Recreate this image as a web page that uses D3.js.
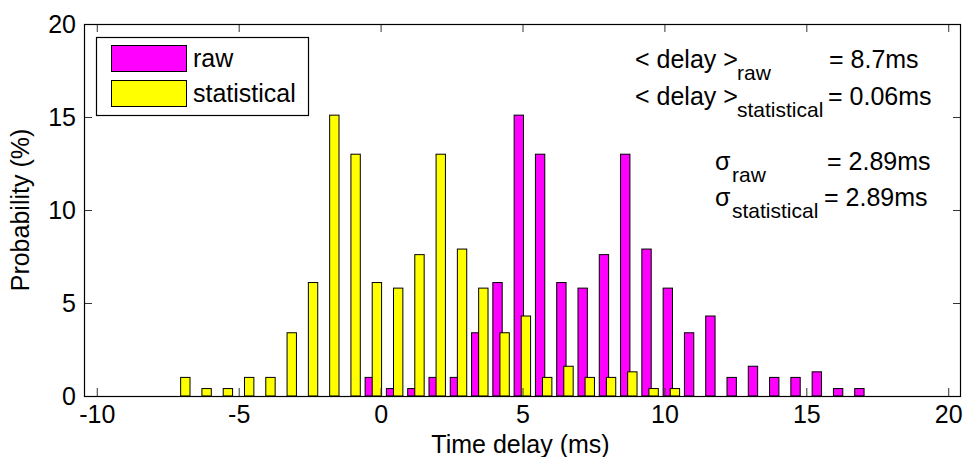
<!DOCTYPE html>
<html>
<head>
<meta charset="utf-8">
<script src="https://cdn.jsdelivr.net/npm/d3@7"></script>
<style>
  body { margin: 0; background: #fff; }
  svg { display: block; font-family: "Liberation Sans", Arial, sans-serif; }
</style>
</head>
<body>
<svg width="963" height="457"></svg>
<script>
// bin centres (ms)
var statCenters = [-6.88, -6.13, -5.38, -4.63, -3.88, -3.13, -2.38, -1.63, -0.88, -0.13, 0.62, 1.37,
                   2.12, 2.87, 3.62, 4.37, 5.12, 5.87, 6.62, 7.37, 8.12, 8.87, 9.62, 10.37];
var rawCenters = [-0.38, 0.37, 1.12, 1.87, 2.62, 3.37, 4.12, 4.87, 5.62, 6.37, 7.12, 7.87,
                  8.62, 9.37, 10.12, 10.87, 11.62, 12.37, 13.12, 13.87, 14.62, 15.37, 16.12, 16.87];

// probabilities (%)
var rawValues = [1.0, 0.4, 0.4, 1.0, 1.0, 3.4, 6.1, 15.1, 13.0, 6.1, 5.8, 7.6,
                 13.0, 7.9, 5.8, 3.4, 4.3, 1.0, 1.6, 1.0, 1.0, 1.3, 0.4, 0.4];
var statValues = [1.0, 0.4, 0.4, 1.0, 1.0, 3.4, 6.1, 15.1, 13.0, 6.1, 5.8, 7.6,
                  13.0, 7.9, 5.8, 3.4, 4.3, 1.0, 1.6, 1.0, 1.0, 1.3, 0.4, 0.4];

var xTicks = [-10, -5, 0, 5, 10, 15, 20];
var yTicks = [0, 5, 10, 15, 20];

var seriesNames = ["raw", "statistical"];
var colors = { "raw": "#ff00ff", "statistical": "#ffff00" };

// plot box (px) -- note: "top" is reserved on window, so use p*
var pLeft = 84, pRight = 961, pTop = 24, pBottom = 396;
var barW = 0.33; // ms
var fs = 25;

var svg = d3.select("svg");

var x = d3.scaleLinear().domain([-10.45, 20.45]).range([pLeft, pRight]);
var y = d3.scaleLinear().domain([0, 20]).range([pBottom, pTop]);

// bars: raw first, statistical drawn on top
function drawBars(centers, values, name) {
    svg.append("g").selectAll("rect")
        .data(centers.map(function(c, i) { return { x: c, v: values[i] }; }))
        .enter()
        .append("rect")
          .attr("x", d => x(d.x - barW / 2))
          .attr("y", d => y(d.v))
          .attr("width", d => x(d.x + barW / 2) - x(d.x - barW / 2))
          .attr("height", d => y(0) - y(d.v))
          .attr("fill", colors[name])
          .attr("stroke", "#000")
          .attr("stroke-width", 1);
}
drawBars(rawCenters, rawValues, "raw");
drawBars(statCenters, statValues, "statistical");

// axes, ticks pointing inward like matlab
function styleAxis(g) {
    g.select(".domain").remove();
    g.selectAll(".tick line").attr("stroke", "#333");
    g.selectAll("text").attr("font-size", fs).attr("fill", "#000")
      .attr("font-family", "'Liberation Sans', Arial, sans-serif");
}
var plainFmt = d => String(d); // hyphen minus, not the unicode one

svg.append("g")
    .attr("transform", `translate(0,${pBottom})`)
    .call(d3.axisBottom(x).tickValues(xTicks).tickFormat(plainFmt)
            .tickSizeInner(-8).tickSizeOuter(0).tickPadding(9))
    .call(styleAxis);
svg.append("g")
    .attr("transform", `translate(0,${pTop})`)
    .call(d3.axisTop(x).tickValues(xTicks).tickSizeInner(-8).tickSizeOuter(0).tickFormat(""))
    .call(styleAxis);
svg.append("g")
    .attr("transform", `translate(${pLeft},0)`)
    .call(d3.axisLeft(y).tickValues(yTicks).tickFormat(plainFmt)
            .tickSizeInner(-8).tickSizeOuter(0).tickPadding(8))
    .call(styleAxis);
svg.append("g")
    .attr("transform", `translate(${pRight},0)`)
    .call(d3.axisRight(y).tickValues(yTicks).tickSizeInner(-8).tickSizeOuter(0).tickFormat(""))
    .call(styleAxis);

// box
svg.append("rect")
    .attr("x", pLeft + 0.5).attr("y", pTop + 0.5)
    .attr("width", pRight - pLeft - 1).attr("height", pBottom - pTop)
    .attr("fill", "none").attr("stroke", "#000").attr("stroke-width", 1.2);

// axis titles
svg.append("text")
    .attr("x", (pLeft + pRight) / 2 - 2).attr("y", 453)
    .attr("text-anchor", "middle").attr("font-size", fs)
    .text("Time delay (ms)");
svg.append("text")
    .attr("transform", `translate(29,${(pTop + pBottom) / 2}) rotate(-90)`)
    .attr("text-anchor", "middle").attr("font-size", fs)
    .text("Probability (%)");

// legend
var legend = svg.append("g");
legend.append("rect")
    .attr("x", 96.5).attr("y", 37.5).attr("width", 212).attr("height", 78)
    .attr("fill", "#fff").attr("stroke", "#000").attr("stroke-width", 1.2);
seriesNames.forEach(function(name, i) {
    legend.append("rect")
        .attr("x", 111.5).attr("y", 45.5 + i * 35).attr("width", 75).attr("height", 26)
        .attr("fill", colors[name]).attr("stroke", "#000");
    legend.append("text")
        .attr("x", 193).attr("y", 67 + i * 34.5)
        .attr("font-size", fs)
        .text(name);
});

// annotations
var notes = [
    { main: "< delay >", sub: "raw", val: "= 8.7ms", x: 635, xs: 737, xv: 829, y: 68 },
    { main: "< delay >", sub: "statistical", val: "= 0.06ms", x: 635, xs: 737, xv: 828, y: 105 },
    { main: "\u03c3", sub: "raw", val: "= 2.89ms", x: 715, xs: 732, xv: 827, y: 170 },
    { main: "\u03c3", sub: "statistical", val: "= 2.89ms", x: 715, xs: 732, xv: 824, y: 206 }
];
var ann = svg.append("g").attr("font-size", fs);
notes.forEach(function(n) {
    ann.append("text").attr("x", n.x).attr("y", n.y).text(n.main);
    ann.append("text").attr("x", n.xs).attr("y", n.y + 12).attr("font-size", 21).text(n.sub);
    ann.append("text").attr("x", n.xv).attr("y", n.y).text(n.val);
});
</script>
</body>
</html>
